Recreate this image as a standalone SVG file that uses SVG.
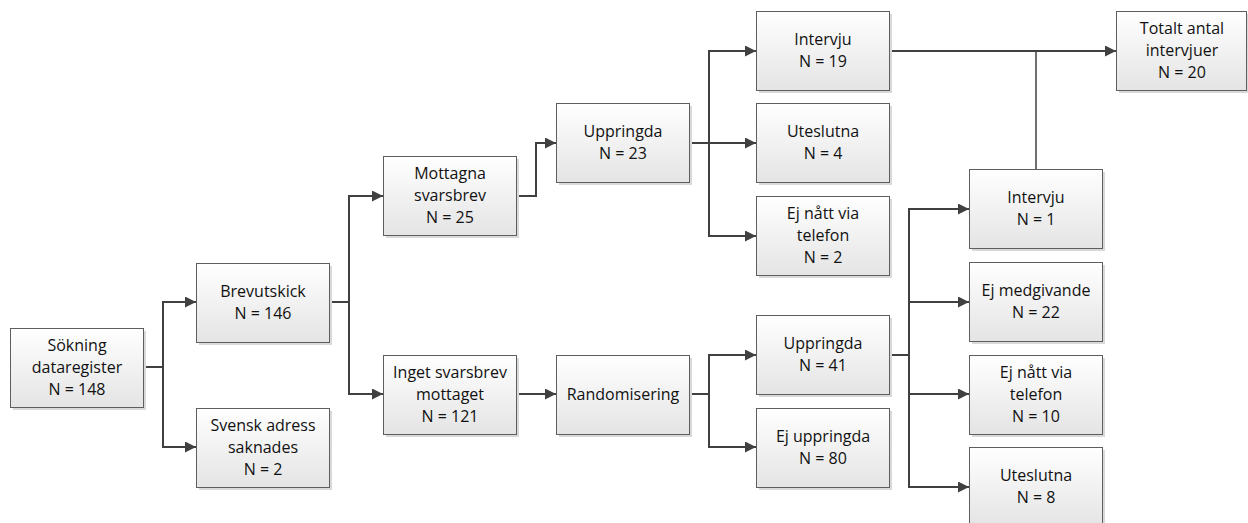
<svg xmlns="http://www.w3.org/2000/svg" width="1248" height="523" viewBox="0 0 1248 523">
<defs>
<linearGradient id="boxfill" x1="0" y1="0" x2="0" y2="1">
<stop offset="0" stop-color="#ffffff"/>
<stop offset="1" stop-color="#e4e4e4"/>
</linearGradient>
<marker id="arrow" markerUnits="userSpaceOnUse" markerWidth="11" markerHeight="11" refX="11" refY="5.5" orient="auto">
<path d="M0,0 L11,5.5 L0,11 z" fill="#404040"/>
</marker>
<style>
.box{fill:url(#boxfill);stroke:#5e5e5e;stroke-width:1}
.shadow{fill:#d9d9d9}
.lbl{font-family:"Open Sans","Liberation Sans",sans-serif;font-size:16px;fill:#111;text-anchor:middle}
.conn{fill:none;stroke:#404040;stroke-width:2}
.arr{marker-end:url(#arrow)}
.thin{fill:none;stroke:#404040;stroke-width:1.5}
</style>
</defs>
<rect width="1248" height="523" fill="#ffffff"/>

<g id="connectors">
<polyline class="conn" points="143,367 163,367"/>
<polyline class="conn arr" points="163,367 163,302 196,302"/>
<polyline class="conn arr" points="163,367 163,447 196,447"/>
<polyline class="conn" points="330,302 349,302"/>
<polyline class="conn arr" points="349,302 349,196 383,196"/>
<polyline class="conn arr" points="349,302 349,394 383,394"/>
<polyline class="conn arr" points="517,196 536,196 536,143 556,143"/>
<polyline class="conn" points="689,143 709,143"/>
<polyline class="conn arr" points="709,143 709,51 756,51"/>
<polyline class="conn arr" points="709,143 756,143"/>
<polyline class="conn arr" points="709,143 709,236 756,236"/>
<polyline class="conn arr" points="889,51 1116,51"/>
<polyline class="thin" points="1036,169 1036,51"/>
<polyline class="conn arr" points="517,394 556,394"/>
<polyline class="conn" points="689,394 709,394"/>
<polyline class="conn arr" points="709,394 709,355 756,355"/>
<polyline class="conn arr" points="709,394 709,447 756,447"/>
<polyline class="conn" points="889,355 909,355"/>
<polyline class="conn arr" points="909,355 909,209 969,209"/>
<polyline class="conn arr" points="909,355 909,302 969,302"/>
<polyline class="conn arr" points="909,355 909,394 969,394"/>
<polyline class="conn arr" points="909,355 909,487 969,487"/>
</g>

<g id="sokning">
<rect class="shadow" x="13" y="331" width="133" height="79"/>
<rect class="box" x="10.5" y="328.5" width="133" height="79"/>
<text class="lbl" x="77" y="351">Sökning</text>
<text class="lbl" x="77" y="373">dataregister</text>
<text class="lbl" x="77" y="395">N = 148</text>
</g>

<g id="brevutskick">
<rect class="shadow" x="199" y="266" width="133" height="79"/>
<rect class="box" x="196.5" y="263.5" width="133" height="79"/>
<text class="lbl" x="263" y="297">Brevutskick</text>
<text class="lbl" x="263" y="319">N = 146</text>
</g>

<g id="svensk">
<rect class="shadow" x="199" y="411" width="133" height="79"/>
<rect class="box" x="196.5" y="408.5" width="133" height="79"/>
<text class="lbl" x="263" y="431">Svensk adress</text>
<text class="lbl" x="263" y="453">saknades</text>
<text class="lbl" x="263" y="475">N = 2</text>
</g>

<g id="mottagna">
<rect class="shadow" x="386" y="159" width="133" height="79"/>
<rect class="box" x="383.5" y="156.5" width="133" height="79"/>
<text class="lbl" x="450" y="179">Mottagna</text>
<text class="lbl" x="450" y="201">svarsbrev</text>
<text class="lbl" x="450" y="223">N = 25</text>
</g>

<g id="inget">
<rect class="shadow" x="386" y="358" width="133" height="79"/>
<rect class="box" x="383.5" y="355.5" width="133" height="79"/>
<text class="lbl" x="450" y="378">Inget svarsbrev</text>
<text class="lbl" x="450" y="400">mottaget</text>
<text class="lbl" x="450" y="422">N = 121</text>
</g>

<g id="uppringda23">
<rect class="shadow" x="559" y="106" width="133" height="79"/>
<rect class="box" x="556.5" y="103.5" width="133" height="79"/>
<text class="lbl" x="623" y="137">Uppringda</text>
<text class="lbl" x="623" y="159">N = 23</text>
</g>

<g id="randomisering">
<rect class="shadow" x="559" y="358" width="133" height="79"/>
<rect class="box" x="556.5" y="355.5" width="133" height="79"/>
<text class="lbl" x="623" y="400">Randomisering</text>
</g>

<g id="intervju19">
<rect class="shadow" x="759" y="14" width="133" height="79"/>
<rect class="box" x="756.5" y="11.5" width="133" height="79"/>
<text class="lbl" x="823" y="45">Intervju</text>
<text class="lbl" x="823" y="67">N = 19</text>
</g>

<g id="uteslutna4">
<rect class="shadow" x="759" y="106" width="133" height="79"/>
<rect class="box" x="756.5" y="103.5" width="133" height="79"/>
<text class="lbl" x="823" y="137">Uteslutna</text>
<text class="lbl" x="823" y="159">N = 4</text>
</g>

<g id="ejnatt2">
<rect class="shadow" x="759" y="199" width="133" height="79"/>
<rect class="box" x="756.5" y="196.5" width="133" height="79"/>
<text class="lbl" x="823" y="219">Ej nått via</text>
<text class="lbl" x="823" y="241">telefon</text>
<text class="lbl" x="823" y="263">N = 2</text>
</g>

<g id="uppringda41">
<rect class="shadow" x="759" y="318" width="133" height="79"/>
<rect class="box" x="756.5" y="315.5" width="133" height="79"/>
<text class="lbl" x="823" y="349">Uppringda</text>
<text class="lbl" x="823" y="371">N = 41</text>
</g>

<g id="ejuppringda">
<rect class="shadow" x="759" y="411" width="133" height="79"/>
<rect class="box" x="756.5" y="408.5" width="133" height="79"/>
<text class="lbl" x="823" y="442">Ej uppringda</text>
<text class="lbl" x="823" y="464">N = 80</text>
</g>

<g id="intervju1">
<rect class="shadow" x="972" y="172" width="133" height="79"/>
<rect class="box" x="969.5" y="169.5" width="133" height="79"/>
<text class="lbl" x="1036" y="203">Intervju</text>
<text class="lbl" x="1036" y="225">N = 1</text>
</g>

<g id="ejmedgivande">
<rect class="shadow" x="972" y="265" width="133" height="79"/>
<rect class="box" x="969.5" y="262.5" width="133" height="79"/>
<text class="lbl" x="1036" y="296">Ej medgivande</text>
<text class="lbl" x="1036" y="318">N = 22</text>
</g>

<g id="ejnatt10">
<rect class="shadow" x="972" y="358" width="133" height="79"/>
<rect class="box" x="969.5" y="355.5" width="133" height="79"/>
<text class="lbl" x="1036" y="378">Ej nått via</text>
<text class="lbl" x="1036" y="400">telefon</text>
<text class="lbl" x="1036" y="422">N = 10</text>
</g>

<g id="uteslutna8">
<rect class="shadow" x="972" y="450" width="133" height="79"/>
<rect class="box" x="969.5" y="447.5" width="133" height="79"/>
<text class="lbl" x="1036" y="481">Uteslutna</text>
<text class="lbl" x="1036" y="503">N = 8</text>
</g>

<g id="totalt">
<rect class="shadow" x="1119" y="14" width="131" height="79"/>
<rect class="box" x="1116.5" y="11.5" width="130" height="79"/>
<text class="lbl" x="1182" y="34">Totalt antal</text>
<text class="lbl" x="1182" y="56">intervjuer</text>
<text class="lbl" x="1182" y="78">N = 20</text>
</g>
</svg>
